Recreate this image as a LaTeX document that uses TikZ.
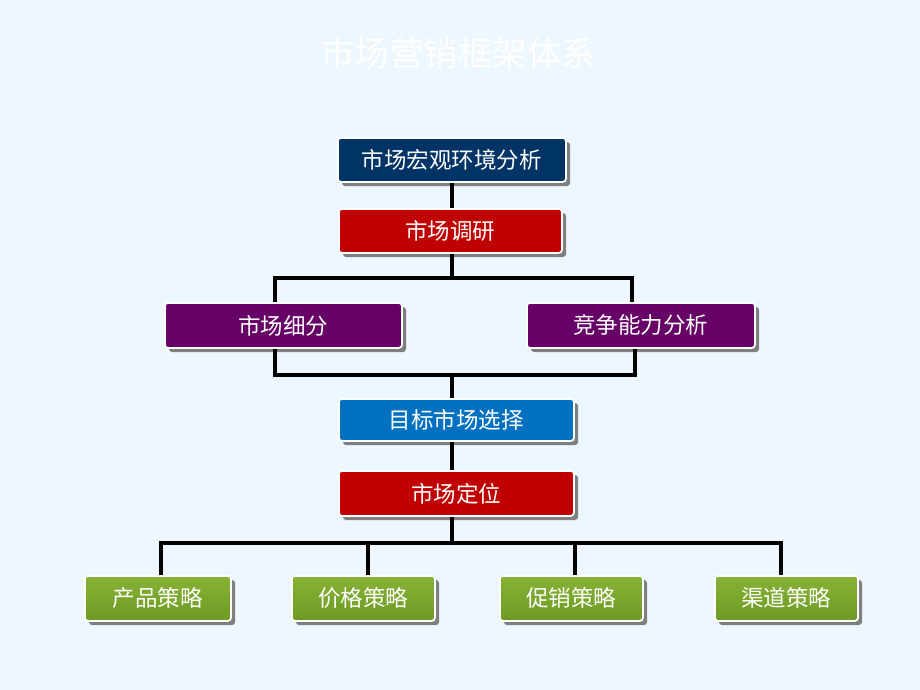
\documentclass[tikz,border=0pt]{standalone}
\usepackage{fontspec}
\newfontfamily\cjk{Noto Sans CJK SC}
\definecolor{bgc}{HTML}{EEF6FF}
\definecolor{navyc}{HTML}{003366}
\definecolor{redc}{HTML}{C00000}
\definecolor{purpc}{HTML}{660066}
\definecolor{bluec}{HTML}{0070C0}
\definecolor{greentop}{HTML}{86B236}
\definecolor{greenbot}{HTML}{6C9B22}
\definecolor{shadowc}{HTML}{7F7F7F}
\begin{document}
\begin{tikzpicture}[x=1pt,y=-1pt,
  boxbase/.style={draw=white,line width=1.8pt,rounded corners=3pt,text=white,
    font=\cjk\fontsize{22.5}{22.5}\selectfont,inner sep=0pt},
  shadowbox/.style={fill=shadowc,rounded corners=3pt},
  conn/.style={line width=3.5pt,black},
]
\fill[bgc] (0,0) rectangle (920,690);
\useasboundingbox (0,0) rectangle (920,690);
\node[text=white,font=\cjk\fontsize{34.5}{34.5}\selectfont] (title) at (458,53) {市场营销框架体系};

\newcommand\mybox[7]{% name, x1,y1,x2,y2, fill spec, text
  \fill[shadowbox] (#2+5,#3+5) rectangle (#4+5,#5+5);
  \node[boxbase,#6,minimum width=#4-#2,minimum height=#5-#3,anchor=north west] (#1) at (#2,#3) {\raisebox{-1pt}{#7}};
}
\coordinate (c1) at (452,278);
\coordinate (c1l) at (275,278);
\coordinate (c1r) at (632,278);
\coordinate (c2) at (452,375);
\coordinate (c2l) at (275,375);
\coordinate (c2r) at (635,375);
\coordinate (c3) at (452,543);
\coordinate (g1t) at (161,543);
\coordinate (g2t) at (368,543);
\coordinate (g3t) at (575,543);
\coordinate (g4t) at (781,543);

\mybox{b1}{337}{137}{565}{181}{fill=navyc}{市场宏观环境分析}
\mybox{b2}{338}{208}{561}{252}{fill=redc}{市场调研}
\mybox{b3}{164}{302}{401}{347}{fill=purpc}{市场细分}
\mybox{b4}{526}{302}{754}{347}{fill=purpc}{竞争能力分析}
\mybox{b5}{338}{398}{573}{440}{fill=bluec}{目标市场选择}
\mybox{b6}{338}{470}{573}{515}{fill=redc}{市场定位}
\mybox{g1}{84}{575}{230}{620}{top color=greentop,bottom color=greenbot}{产品策略}
\mybox{g2}{291}{575}{434}{620}{top color=greentop,bottom color=greenbot}{价格策略}
\mybox{g3}{499}{575}{642}{620}{top color=greentop,bottom color=greenbot}{促销策略}
\mybox{g4}{714}{575}{857}{620}{top color=greentop,bottom color=greenbot}{渠道策略}

\draw[conn] (b1.south -| c1) -- (b2.north -| c1);
\draw[conn] (b2.south -| c1) -- (c1);
\draw[conn] (b3.north -| c1l) -- (c1l) -- (c1r) -- (b4.north -| c1r);
\draw[conn] (b3.south -| c2l) -- (c2l) -- (c2r) -- (b4.south -| c2r);
\draw[conn] (c2) -- (b5.north -| c2);
\draw[conn] (b5.south -| c2) -- (b6.north -| c2);
\draw[conn] (b6.south -| c3) -- (c3);
\draw[conn] (g1.north -| g1t) -- (g1t) -- (g4t) -- (g4.north -| g4t);
\draw[conn] (g2t) -- (g2.north -| g2t);
\draw[conn] (g3t) -- (g3.north -| g3t);
\end{tikzpicture}
\end{document}
